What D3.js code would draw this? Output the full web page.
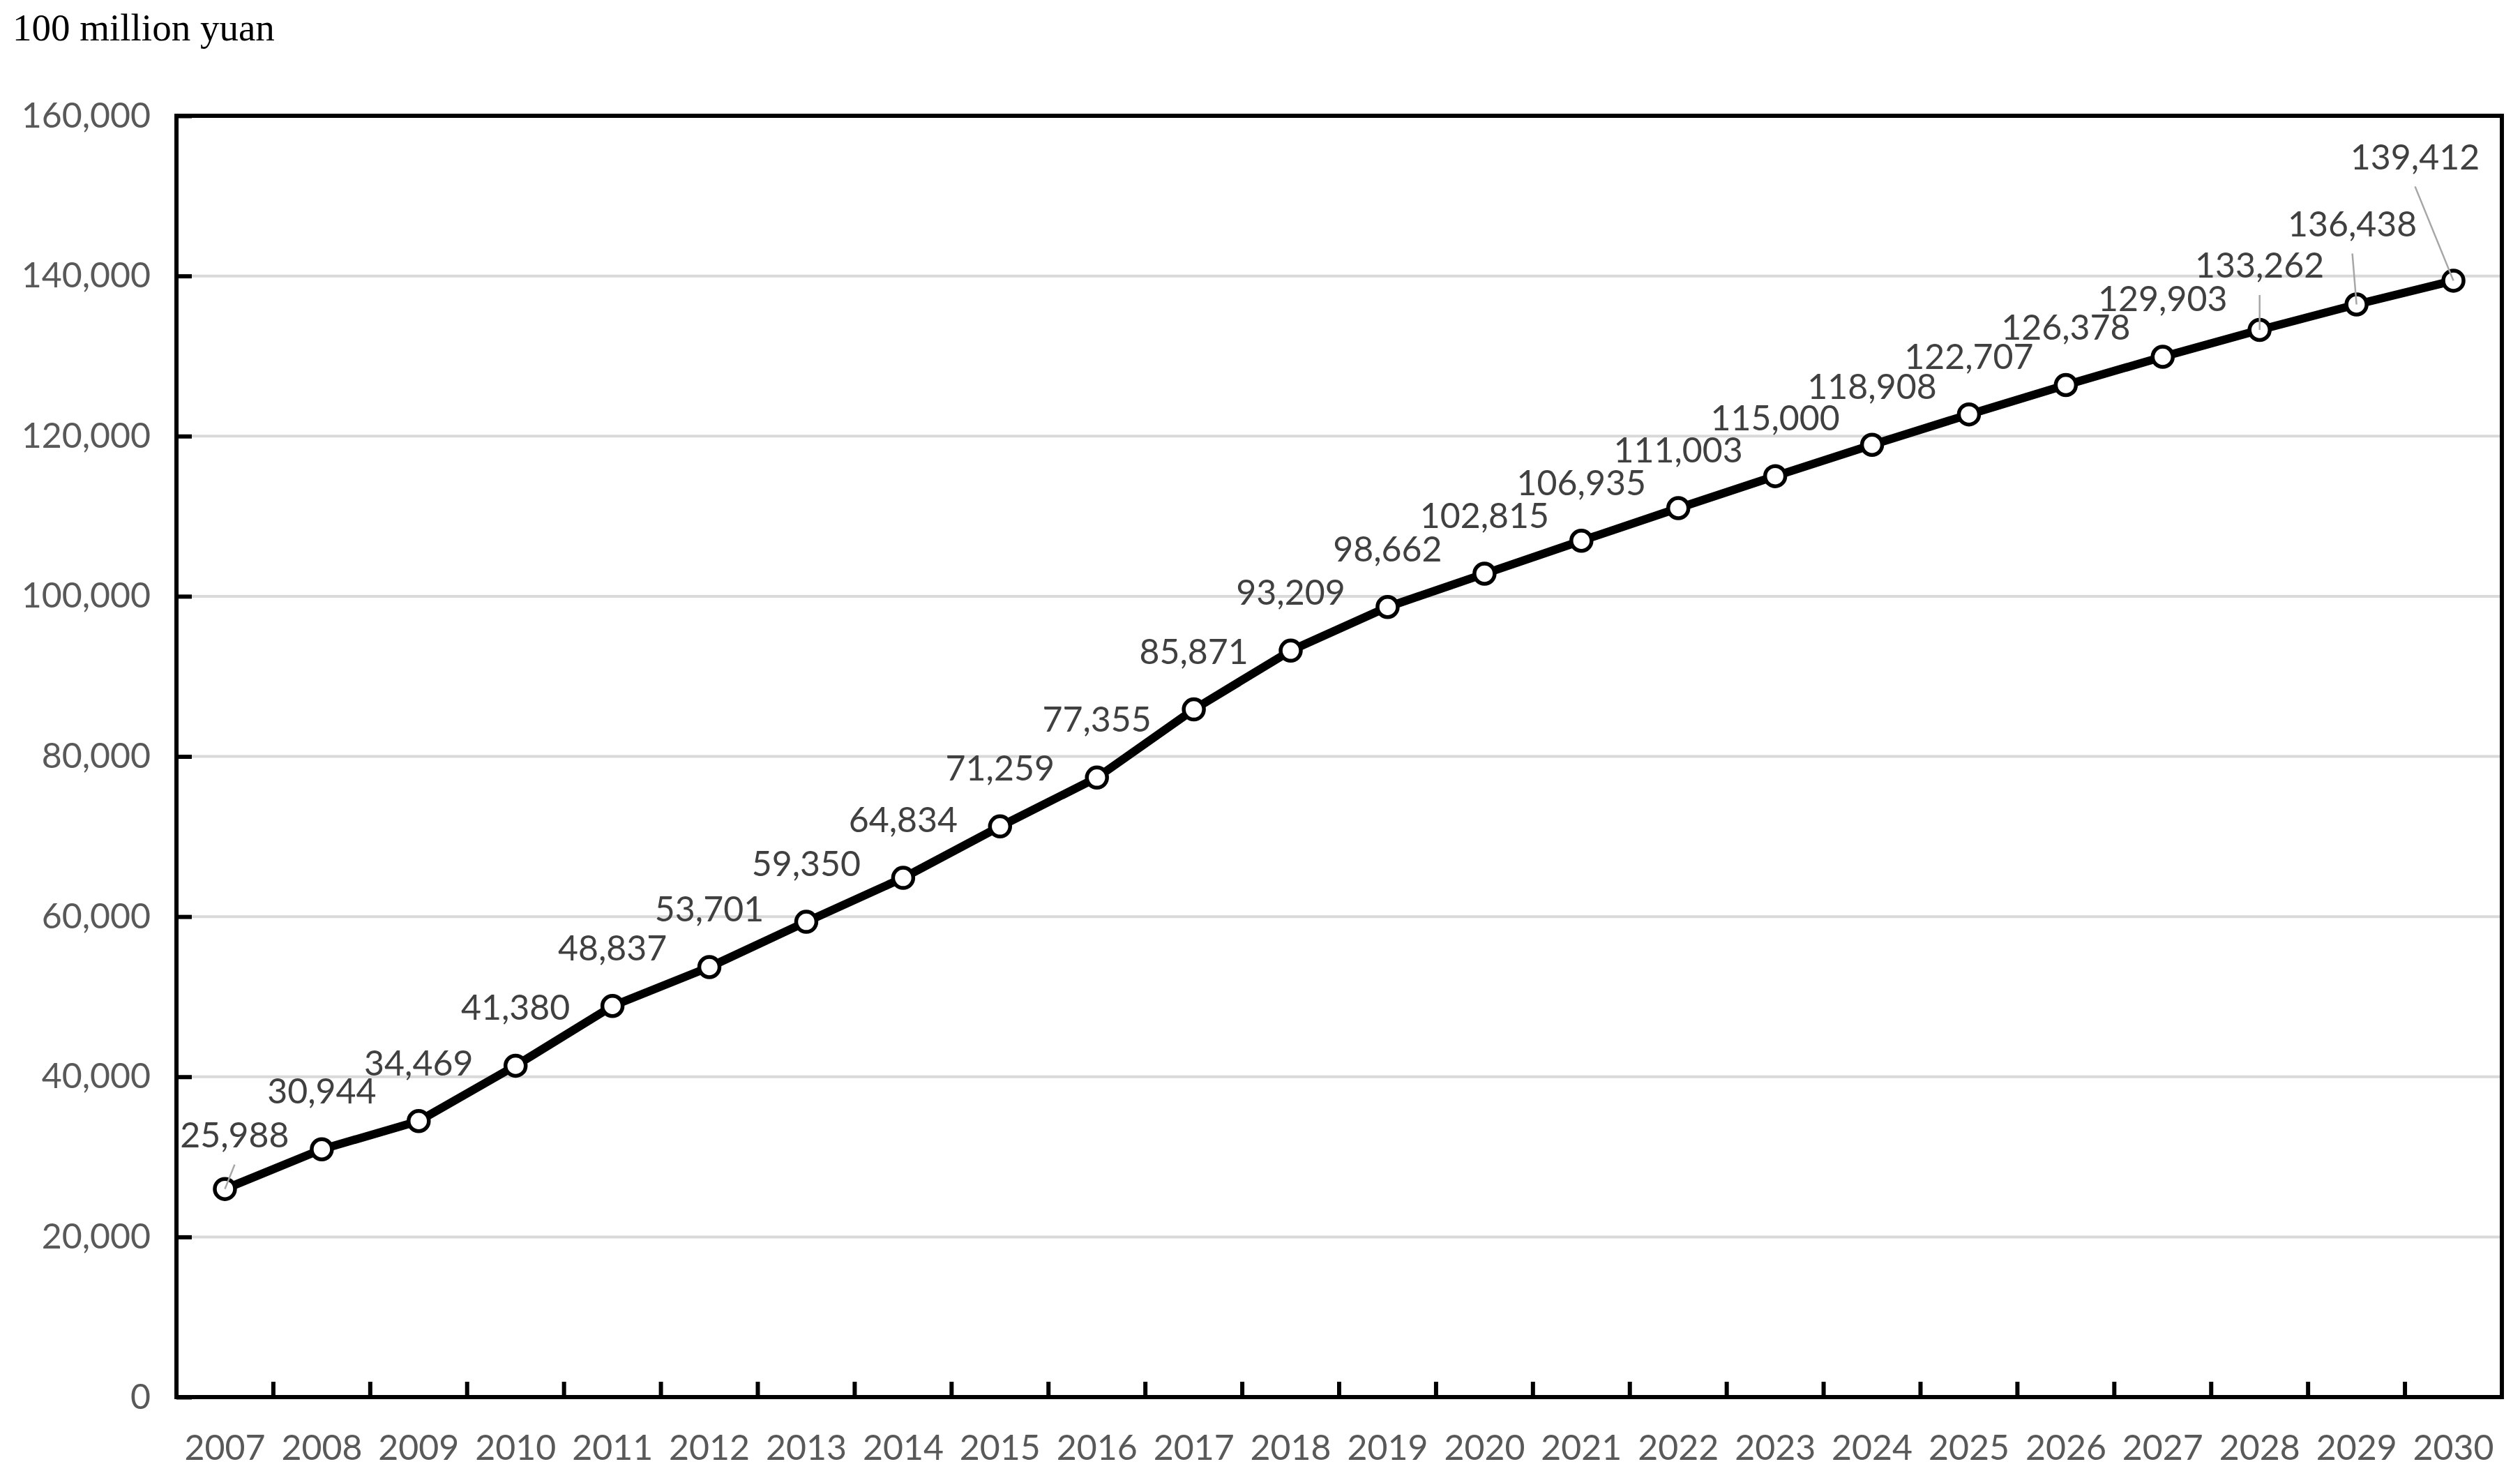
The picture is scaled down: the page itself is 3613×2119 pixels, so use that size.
<!DOCTYPE html>
<html>
<head>
<meta charset="utf-8">
<script src="https://cdn.jsdelivr.net/npm/d3@7"></script>
<style>
  html, body { margin: 0; padding: 0; background: #ffffff; }
  svg { display: block; }
</style>
</head>
<body>
<svg id="chart" width="3613" height="2119"></svg>
<script>
// ---- data ----
const years = ["2007","2008","2009","2010","2011","2012","2013","2014","2015","2016","2017","2018",
               "2019","2020","2021","2022","2023","2024","2025","2026","2027","2028","2029","2030"];
const values = [25988, 30944, 34469, 41380, 48837, 53701, 59350, 64834, 71259, 77355, 85871, 93209,
                98662, 102815, 106935, 111003, 115000, 118908, 122707, 126378, 129903, 133262, 136438, 139412];
const yTicks = [0, 20000, 40000, 60000, 80000, 100000, 120000, 140000, 160000];
const unitLabel = "100 million yuan";

// ---- layout ----
const W = 3613, H = 2119;
const plot = { left: 253, right: 3587, top: 166, bottom: 2003 };
const labelFont = "Lato, 'Open Sans', sans-serif";
const labelSize = 50;
// label placement overrides (pixel offsets from point), with leader lines
const labelOffsets = {
  "2007": { dx: 14, dy: -77, leader: true },
  "2028": { dx: 0, dy: -92, leader: true },
  "2029": { dx: -6, dy: -115, leader: true },
  "2030": { dx: -55, dy: -177, leader: true }
};
const defaultOffset = { dx: 0, dy: -83, leader: false };

const svg = d3.select("#chart");
svg.append("rect").attr("width", W).attr("height", H).attr("fill", "#ffffff");

const x = d3.scaleBand().domain(years).range([plot.left, plot.right]).paddingInner(0).paddingOuter(0);
const y = d3.scaleLinear().domain([0, 160000]).range([plot.bottom, plot.top]);
const fmt = d3.format(",");

// unit label
svg.append("text")
  .attr("x", 18).attr("y", 58)
  .attr("font-family", "'Liberation Serif', 'Times New Roman', serif")
  .attr("font-size", 55)
  .attr("fill", "#000000")
  .text(unitLabel);

// gridlines
svg.append("g").selectAll("line")
  .data(yTicks.filter(t => t > 0 && t < 160000))
  .join("line")
  .attr("x1", plot.left).attr("x2", plot.right)
  .attr("y1", d => y(d)).attr("y2", d => y(d))
  .attr("stroke", "#d9d9d9").attr("stroke-width", 4);

// y axis
const yAxis = svg.append("g")
  .attr("transform", `translate(${plot.left},0)`)
  .call(d3.axisLeft(y).tickValues(yTicks).tickFormat(fmt).tickSize(-22).tickPadding(37));
yAxis.select(".domain").remove();
yAxis.selectAll(".tick line").attr("stroke", "#000").attr("stroke-width", 6);
yAxis.selectAll(".tick text")
  .attr("font-family", labelFont).attr("font-size", labelSize).attr("fill", "#595959");

// x axis: ticks at band boundaries (inward), labels at band centres
const xAxis = svg.append("g")
  .attr("transform", `translate(0,${plot.bottom})`)
  .call(d3.axisBottom(x).tickSize(0).tickPadding(54));
xAxis.select(".domain").remove();
xAxis.selectAll(".tick text")
  .attr("font-family", labelFont).attr("font-size", labelSize).attr("fill", "#595959");

svg.append("g").selectAll("line")
  .data(years.slice(1))
  .join("line")
  .attr("x1", d => x(d)).attr("x2", d => x(d))
  .attr("y1", plot.bottom).attr("y2", plot.bottom - 22)
  .attr("stroke", "#000").attr("stroke-width", 6);

// frame
svg.append("rect")
  .attr("x", plot.left).attr("y", plot.top)
  .attr("width", plot.right - plot.left).attr("height", plot.bottom - plot.top)
  .attr("fill", "none").attr("stroke", "#000").attr("stroke-width", 6);

// line
const pts = years.map((yr, i) => ({ yr, v: values[i], px: x(yr) + x.bandwidth() / 2, py: y(values[i]) }));
svg.append("path")
  .datum(pts)
  .attr("d", d3.line().x(d => d.px).y(d => d.py))
  .attr("fill", "none").attr("stroke", "#000").attr("stroke-width", 12)
  .attr("stroke-linejoin", "round");

// markers
svg.append("g").selectAll("circle")
  .data(pts)
  .join("circle")
  .attr("cx", d => d.px).attr("cy", d => d.py)
  .attr("r", 14.5)
  .attr("fill", "#ffffff").attr("stroke", "#000").attr("stroke-width", 5.5);

// leader lines
const withOff = pts.map(d => Object.assign({}, d, labelOffsets[d.yr] || defaultOffset));
svg.append("g").selectAll("line")
  .data(withOff.filter(d => d.leader))
  .join("line")
  .attr("x1", d => d.px + d.dx).attr("y1", d => d.py + d.dy + 42)
  .attr("x2", d => d.px).attr("y2", d => d.py)
  .attr("stroke", "#a6a6a6").attr("stroke-width", 2.5);

// data labels
svg.append("g").selectAll("text")
  .data(withOff)
  .join("text")
  .attr("x", d => d.px + d.dx).attr("y", d => d.py + d.dy)
  .attr("dy", "0.35em")
  .attr("text-anchor", "middle")
  .attr("font-family", labelFont).attr("font-size", labelSize)
  .attr("fill", "#404040")
  .text(d => fmt(d.v));
</script>
</body>
</html>
